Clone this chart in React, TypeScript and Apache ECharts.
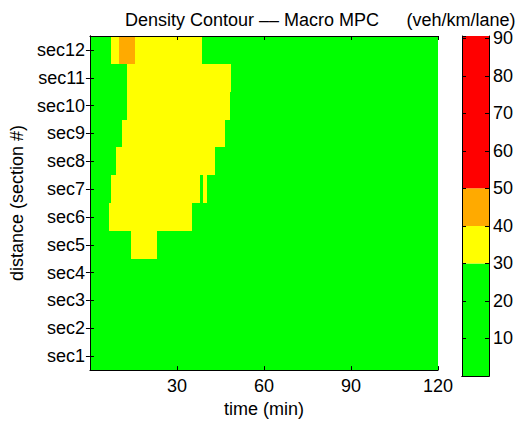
import React, { useEffect, useRef } from "react";
import * as echarts from "echarts";

const sectionNames = ["sec1", "sec2", "sec3", "sec4", "sec5", "sec6", "sec7", "sec8", "sec9", "sec10", "sec11", "sec12"];

// time breakpoints (min) of each section's row, sec1 first
const rowBreaks: number[][] = [
  [0, 120],
  [0, 120],
  [0, 120],
  [0, 120],
  [0, 14.0, 23.1, 120],
  [0, 6.5, 35.2, 120],
  [0, 7.3, 37.8, 39.1, 40.2, 120],
  [0, 9.0, 43.1, 120],
  [0, 11.0, 46.5, 120],
  [0, 12.7, 48.2, 120],
  [0, 12.7, 48.8, 120],
  [0, 7.3, 10.0, 15.7, 38.5, 120],
];

// density (veh/km/lane) of each segment between breakpoints
const rowDensities: number[][] = [
  [20],
  [20],
  [20],
  [20],
  [20, 35, 20],
  [20, 35, 20],
  [20, 35, 20, 35, 20],
  [20, 35, 20],
  [20, 35, 20],
  [20, 35, 20],
  [20, 35, 20],
  [20, 35, 45, 35, 20],
];

const colorLevels = [0, 30, 40, 50, 90.6];
const levelColors = ["#00ff00", "#ffff00", "#ffaa00", "#ff0000"];

const FONT = "'Liberation Sans', Arial, Helvetica, sans-serif";
const FS = 18;

function colorFor(v: number): string {
  for (let i = 0; i < levelColors.length; i++) {
    if (v < colorLevels[i + 1]) return levelColors[i];
  }
  return levelColors[levelColors.length - 1];
}

export default function App() {
  const ref = useRef<HTMLDivElement>(null);
  useEffect(() => {
    if (!ref.current) return;
    const chart = echarts.init(ref.current, undefined, { renderer: "svg" });

    const cells: number[][] = [];
    rowBreaks.forEach((br, r) => {
      for (let i = 0; i < br.length - 1; i++) {
        cells.push([r, br[i], br[i + 1], rowDensities[r][i]]);
      }
    });

    const axisLine = { show: true, lineStyle: { color: "#000", width: 1 } };
    const tick = { show: true, inside: true, length: 4, lineStyle: { color: "#000" } };
    const label = { color: "#000", fontSize: FS, fontFamily: FONT };

    chart.setOption({
      animation: false,
      backgroundColor: "#fff",
      textStyle: { fontFamily: FONT },
      grid: [
        { left: 89, top: 36, width: 349, height: 340 },
        { left: 462, top: 36, width: 27, height: 340 },
      ],
      graphic: [
        {
          type: "text",
          x: 252,
          y: 19.5,
          style: {
            text: "Density Contour –– Macro MPC",
            fill: "#000",
            font: `${FS}px ${FONT}`,
            textAlign: "center",
            textVerticalAlign: "middle",
          },
        },
        {
          type: "text",
          x: 461,
          y: 19.5,
          style: {
            text: "(veh/km/lane)",
            fill: "#000",
            font: `${FS}px ${FONT}`,
            textAlign: "center",
            textVerticalAlign: "middle",
          },
        },
      ],
      xAxis: [
        {
          type: "value",
          gridIndex: 0,
          min: 0,
          max: 120,
          interval: 30,
          position: "bottom",
          z: 5,
          axisLine,
          axisTick: tick,
          splitLine: { show: false },
          axisLabel: { ...label, margin: 7, showMinLabel: false },
          name: "time (min)",
          nameLocation: "middle",
          nameGap: 26,
          nameTextStyle: { ...label },
        },
        {
          type: "value",
          gridIndex: 0,
          min: 0,
          max: 120,
          interval: 30,
          position: "top",
          z: 5,
          axisLine,
          axisTick: tick,
          splitLine: { show: false },
          axisLabel: { show: false },
        },
        {
          type: "category",
          gridIndex: 1,
          data: ["cb"],
          position: "bottom",
          z: 5,
          axisLine,
          axisTick: { show: false },
          axisLabel: { show: false },
        },
        {
          type: "category",
          gridIndex: 1,
          data: ["cb"],
          position: "top",
          z: 5,
          axisLine,
          axisTick: { show: false },
          axisLabel: { show: false },
        },
      ],
      yAxis: [
        {
          type: "category",
          gridIndex: 0,
          data: sectionNames,
          position: "left",
          z: 5,
          axisLine,
          axisTick: { ...tick, alignWithLabel: true, interval: 0 },
          axisLabel: { ...label, margin: 5, interval: 0 },
          name: "distance (section #)",
          nameLocation: "middle",
          nameGap: 61,
          nameRotate: 90,
          nameTextStyle: { ...label },
        },
        {
          type: "category",
          gridIndex: 0,
          data: sectionNames,
          position: "right",
          z: 5,
          axisLine,
          axisTick: { ...tick, alignWithLabel: true, interval: 0 },
          axisLabel: { show: false },
        },
        {
          type: "value",
          gridIndex: 1,
          min: colorLevels[0],
          max: colorLevels[colorLevels.length - 1],
          interval: 10,
          position: "right",
          z: 5,
          axisLine,
          axisTick: tick,
          splitLine: { show: false },
          axisLabel: { ...label, margin: 4, showMinLabel: false, showMaxLabel: false },
        },
        {
          type: "value",
          gridIndex: 1,
          min: colorLevels[0],
          max: colorLevels[colorLevels.length - 1],
          interval: 10,
          position: "left",
          z: 5,
          axisLine,
          axisTick: tick,
          splitLine: { show: false },
          axisLabel: { show: false },
        },
      ],
      series: [
        {
          type: "custom",
          xAxisIndex: 0,
          yAxisIndex: 0,
          z: 1,
          encode: { x: [1, 2], y: 0 },
          data: cells,
          renderItem: (_params: any, api: any) => {
            const row = api.value(0);
            const a = api.coord([api.value(1), row]);
            const b = api.coord([api.value(2), row]);
            const h = api.size([0, 1])[1];
            const x0 = Math.round(a[0]);
            const x1 = Math.round(b[0]);
            const y0 = Math.round(a[1] - h / 2);
            const y1 = Math.round(a[1] + h / 2);
            return {
              type: "rect",
              shape: { x: x0, y: y0, width: x1 - x0, height: y1 - y0 },
              style: { fill: colorFor(api.value(3)) },
            };
          },
        },
        ...levelColors.map((c, i) => ({
          type: "bar",
          xAxisIndex: 2,
          yAxisIndex: 2,
          stack: "cb",
          z: 1,
          barWidth: "100%",
          barCategoryGap: 0,
          itemStyle: { color: c },
          data: [colorLevels[i + 1] - colorLevels[i]],
        })),
      ],
    });
    return () => chart.dispose();
  }, []);
  return (
    <div
      ref={ref}
      style={{ position: "fixed", left: 0, top: 0, width: 526, height: 423 }}
    />
  );
}
